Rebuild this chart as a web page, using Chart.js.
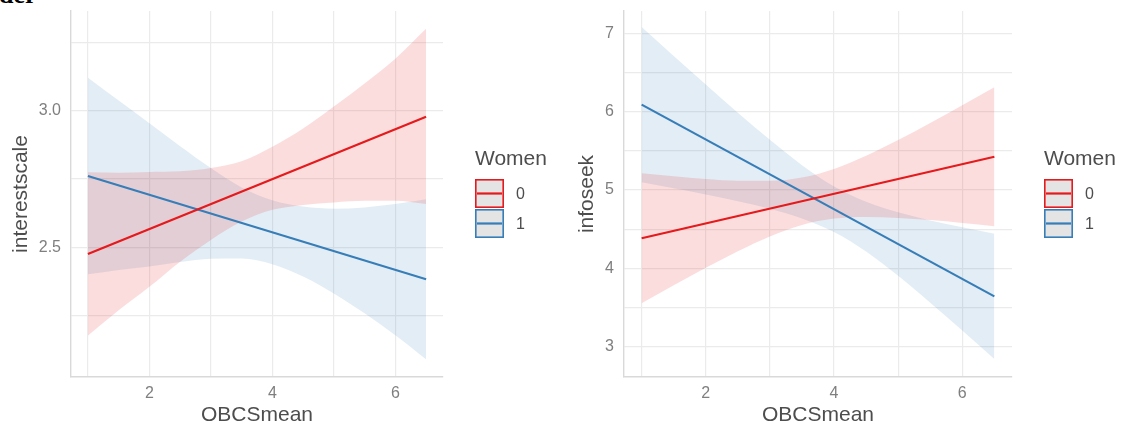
<!DOCTYPE html>
<html>
<head>
<meta charset="utf-8">
<script src="https://cdn.jsdelivr.net/npm/chart.js@4/dist/chart.umd.min.js"></script>
<style>
  html, body { margin: 0; padding: 0; background: #ffffff; }
  #page { position: relative; width: 1123px; height: 431px; overflow: hidden; background: #ffffff; }
  #page canvas { position: absolute; top: 0; }
  #left { left: 0; }
  #right { left: 560px; }
  #caption { position: absolute; left: -1px; top: -18.5px; font: bold 26px "Liberation Serif", serif; color: #000; line-height: 26px; white-space: nowrap; }
</style>
</head>
<body>
<div id="page">
  <div id="caption">der</div>
  <canvas id="left" width="560" height="431"></canvas>
  <canvas id="right" width="563" height="431"></canvas>
</div>
<script>
// Predictor values at which the fitted lines and their confidence bands are drawn
const lineX = [1, 6.5];
const obcs = [1, 1.5, 2, 2.5, 3, 3.5, 4, 4.5, 5, 5.5, 6, 6.5];

// Legend
const groupTitle = 'Women';
const groupLabels = ['0', '1'];
const groupColors = ['#e41a1c', '#377eb8'];
const bandColors = ['rgba(228, 26, 28, 0.15)', 'rgba(55, 126, 184, 0.14)'];

// Axis labels and ticks
const xTitle = 'OBCSmean';
const xGrid = [1, 2, 3, 4, 5, 6];
const xLabelled = [2, 4, 6];

// interestscale panel
const interestTitle = 'interestscale';
const interestGrid = [2.25, 2.5, 2.75, 3.0, 3.25];
const interestLabelled = [2.5, 3.0];
const interestLine0 = [2.475, 2.978];
const interestLine1 = [2.761, 2.383];
const interestUpper0 = [2.775, 2.773, 2.776, 2.778, 2.790, 2.815, 2.868, 2.935, 3.015, 3.100, 3.190, 3.300];
const interestLower0 = [2.177, 2.269, 2.355, 2.447, 2.527, 2.594, 2.637, 2.655, 2.664, 2.670, 2.670, 2.658];
const interestUpper1 = [3.121, 3.037, 2.954, 2.870, 2.790, 2.719, 2.672, 2.649, 2.641, 2.646, 2.658, 2.676];
const interestLower1 = [2.401, 2.417, 2.430, 2.446, 2.458, 2.459, 2.438, 2.393, 2.331, 2.258, 2.178, 2.090];

// infoseek panel
const infoTitle = 'infoseek';
const infoGrid = [3, 3.5, 4, 4.5, 5, 5.5, 6, 6.5, 7];
const infoLabelled = [3, 4, 5, 6, 7];
const infoLine0 = [4.384, 5.425];
const infoLine1 = [6.090, 3.642];
const infoUpper0 = [5.214, 5.175, 5.140, 5.118, 5.118, 5.160, 5.269, 5.437, 5.638, 5.856, 6.082, 6.312];
const infoLower0 = [3.554, 3.783, 4.006, 4.218, 4.408, 4.554, 4.635, 4.657, 4.644, 4.616, 4.580, 4.538];
const infoUpper1 = [7.080, 6.711, 6.347, 5.987, 5.640, 5.317, 5.046, 4.850, 4.716, 4.612, 4.524, 4.442];
const infoLower1 = [5.100, 5.023, 4.943, 4.857, 4.760, 4.637, 4.464, 4.214, 3.904, 3.562, 3.206, 2.842];

const FONT = '"Liberation Sans", Arial, sans-serif';
const pts = (xs, ys) => xs.map((x, i) => ({ x: x, y: ys[i] }));

// Legend drawn as ggplot-style keys: grey box, coloured outline, line through the middle
const keyLegend = {
  id: 'keyLegend',
  afterDraw(chart, args, opts) {
    const { ctx, chartArea } = chart;
    const x0 = chartArea.right + opts.offsetX;
    const size = opts.keySize;
    ctx.save();
    ctx.textAlign = 'left';
    ctx.textBaseline = 'middle';
    ctx.fillStyle = '#4d4d4d';
    ctx.font = '21px ' + FONT;
    ctx.fillText(opts.title, x0, opts.titleY);
    const keys = chart.data.datasets.filter(d => d.legendKey);
    keys.forEach((d, i) => {
      const top = opts.keyTop + i * (size + 1);
      ctx.fillStyle = '#e4e4e4';
      ctx.fillRect(x0, top, size, size);
      ctx.strokeStyle = d.borderColor;
      ctx.lineWidth = 1.6;
      ctx.strokeRect(x0 + 0.8, top + 0.8, size - 1.6, size - 1.6);
      ctx.lineWidth = 2.2;
      ctx.beginPath();
      ctx.moveTo(x0 + 2, top + size / 2);
      ctx.lineTo(x0 + size - 2, top + size / 2);
      ctx.stroke();
      ctx.fillStyle = '#4d4d4d';
      ctx.font = '16px ' + FONT;
      ctx.fillText(d.label, x0 + size + 12, top + size / 2 + 1);
    });
    ctx.restore();
  }
};

function buildPanel(canvasId, cfg) {
  const lineStyle = (label, data, color) => ({
    label: label, data: pts(lineX, data), borderColor: color, borderWidth: 2.2,
    pointRadius: 0, fill: false, legendKey: true
  });
  const band = (ys, color, fillTo) => ({
    data: pts(obcs, ys), borderWidth: 0, pointRadius: 0, backgroundColor: color,
    borderColor: 'rgba(0,0,0,0)', fill: fillTo, cubicInterpolationMode: 'monotone'
  });
  const datasets = [
    lineStyle(groupLabels[0], cfg.line0, groupColors[0]),
    lineStyle(groupLabels[1], cfg.line1, groupColors[1]),
    band(cfg.upper0, bandColors[0], '+1'),
    band(cfg.lower0, bandColors[0], false),
    band(cfg.upper1, bandColors[1], '+1'),
    band(cfg.lower1, bandColors[1], false)
  ];
  const grid = { color: '#ebebeb', lineWidth: 1.2, drawTicks: false };
  const border = { display: true, color: '#d9d9d9', width: 1.4 };
  return new Chart(document.getElementById(canvasId), {
    type: 'line',
    data: { datasets: datasets },
    plugins: [keyLegend],
    options: {
      responsive: false,
      animation: false,
      devicePixelRatio: 1,
      layout: { padding: { left: 0, top: 11, right: cfg.padRight, bottom: 0 } },
      plugins: {
        legend: { display: false },
        tooltip: { enabled: false },
        keyLegend: { title: groupTitle, offsetX: 32, titleY: 159, keyTop: 179, keySize: 29 }
      },
      scales: {
        x: {
          type: 'linear', min: 0.725, max: 6.775,
          grid: grid, border: border,
          afterFit: s => { s.height = 54; s.paddingLeft = 0; s.paddingRight = 0; },
          afterBuildTicks: s => { s.ticks = xGrid.map(v => ({ value: v })); },
          ticks: {
            padding: 7, color: '#7f7f7f', font: { family: FONT, size: 16 },
            maxRotation: 0, autoSkip: false,
            callback: v => xLabelled.includes(v) ? String(v) : ''
          },
          title: { display: true, text: xTitle, color: '#4d4d4d', font: { family: FONT, size: 21 }, padding: { top: 0, bottom: 3 } }
        },
        y: {
          type: 'linear', min: cfg.yMin, max: cfg.yMax,
          grid: grid, border: border,
          afterFit: s => { s.width = cfg.axisWidth; s.paddingTop = 0; s.paddingBottom = 0; },
          afterBuildTicks: s => { s.ticks = cfg.yGrid.map(v => ({ value: v })); },
          ticks: {
            padding: 10, color: '#7f7f7f', font: { family: FONT, size: 16 }, autoSkip: false,
            callback: v => cfg.yLabelled.includes(v) ? v.toFixed(cfg.decimals) : ''
          },
          title: { display: true, text: cfg.yTitle, color: '#4d4d4d', font: { family: FONT, size: 21 }, padding: { top: cfg.titlePad, bottom: 0 } }
        }
      }
    }
  });
}

buildPanel('left', {
  yTitle: interestTitle, yGrid: interestGrid, yLabelled: interestLabelled, decimals: 1,
  yMin: 2.025, yMax: 3.365, axisWidth: 71, padRight: 117, titlePad: 9,
  line0: interestLine0, line1: interestLine1,
  upper0: interestUpper0, lower0: interestLower0, upper1: interestUpper1, lower1: interestLower1
});

buildPanel('right', {
  yTitle: infoTitle, yGrid: infoGrid, yLabelled: infoLabelled, decimals: 0,
  yMin: 2.613, yMax: 7.285, axisWidth: 64, padRight: 111, titlePad: 15,
  line0: infoLine0, line1: infoLine1,
  upper0: infoUpper0, lower0: infoLower0, upper1: infoUpper1, lower1: infoLower1
});
</script>
</body>
</html>
